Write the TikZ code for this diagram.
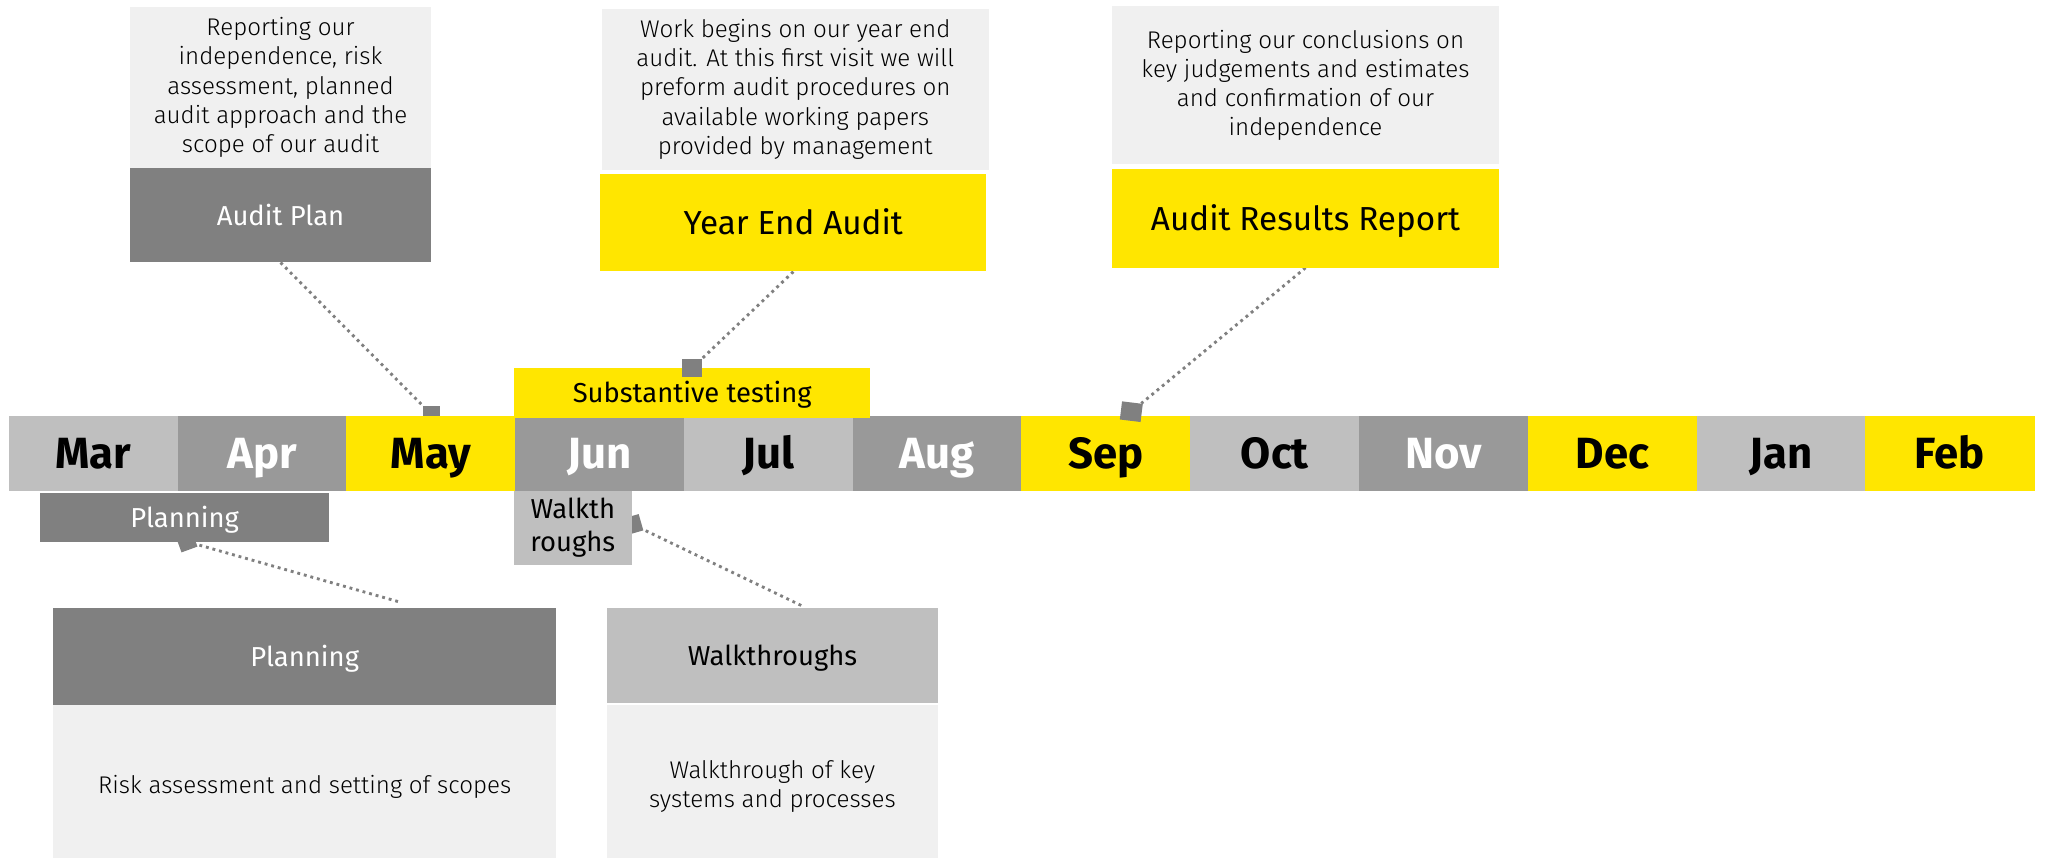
\documentclass[tikz,border=0pt]{standalone}
\usepackage{fontspec}
\setmainfont{Fira Sans}
\newfontfamily\lightfont{Fira Sans Light}
\usepackage{tikz}
\usepackage{xcolor}
\definecolor{eyyellow}{HTML}{FFE600}
\definecolor{darkgrey}{HTML}{808080}
\definecolor{midgrey}{HTML}{999999}
\definecolor{lightgrey}{HTML}{BFBFBF}
\definecolor{palegrey}{HTML}{F0F0F0}
\pgfdeclarelayer{edgelayer}
\pgfsetlayers{edgelayer,main}
\tikzset{
  month/.style={minimum width=129.7pt,minimum height=57pt,inner sep=0pt,
    font=\fontsize{33.5}{38}\selectfont\bfseries,text height=23pt,text depth=0pt},
  desc/.style={fill=palegrey,inner sep=0pt,align=center,
    font=\lightfont\fontsize{18.5}{22.3}\selectfont},
  boxtitle/.style={inner sep=0pt,font=\fontsize{21}{25}\selectfont},
  onetitle/.style={boxtitle,text height=15pt,text depth=0pt},
  bigtitle/.style={onetitle,font=\fontsize{25.5}{28}\selectfont,text height=18pt},
  marker/.style={fill=darkgrey,inner sep=0pt,minimum size=13pt},
  leader/.style={darkgrey,line width=2.2pt,dash pattern=on 2.2pt off 3pt}
}

\begin{document}
\begin{tikzpicture}[x=1pt,y=-1pt]
\useasboundingbox (0,0) rectangle (1568,657.5);
% months
\node[month,fill=lightgrey] (mar) at (71.67,347.5) {Mar};
\node[month,fill=midgrey,text=white] (apr) at (201,347.5) {Apr};
\node[month,fill=eyyellow] (may) at (330.33,347.5) {May};
\node[month,fill=midgrey,text=white] (jun) at (459.67,347.5) {Jun};
\node[month,fill=lightgrey] (jul) at (589,347.5) {Jul};
\node[month,fill=midgrey,text=white] (aug) at (718.33,347.5) {Aug};
\node[month,fill=eyyellow] (sep) at (847.67,347.5) {Sep};
\node[month,fill=lightgrey] (oct) at (977,347.5) {Oct};
\node[month,fill=midgrey,text=white] (nov) at (1106.33,347.5) {Nov};
\node[month,fill=eyyellow] (dec) at (1235.67,347.5) {Dec};
\node[month,fill=lightgrey] (jan) at (1365,347.5) {Jan};
\node[month,fill=eyyellow] (feb) at (1494.33,347.5) {Feb};
% reports above
\node[desc,minimum width=230pt,minimum height=124pt] (plandesc) at (215,67)
  {Reporting our\\independence, risk\\assessment, planned\\audit approach and the\\scope of our audit};
\node[onetitle,fill=darkgrey,text=white,minimum width=230pt,minimum height=72pt] (auditplan) at (215,165) {Audit Plan};
\node[desc,minimum width=297pt,minimum height=123pt] (yeardesc) at (609.5,68.5)
  {Work begins on our year end\\audit. At this first visit we will\\preform audit procedures on\\available working papers\\provided by management};
\node[bigtitle,fill=eyyellow,minimum width=296pt,minimum height=75pt] (yearend) at (608,170.5) {Year End Audit};
\node[desc,minimum width=297pt,minimum height=121.5pt] (resultsdesc) at (1000.5,65.3)
  {Reporting our conclusions on\\key judgements and estimates\\and confirmation of our\\independence};
\node[bigtitle,fill=eyyellow,minimum width=297pt,minimum height=75.5pt] (results) at (1000.5,167.3) {Audit Results Report};
\node[onetitle,fill=eyyellow,minimum width=273pt,minimum height=38pt] (substantive) at (530.5,301) {Substantive testing};
% phases below
\node[onetitle,fill=darkgrey,text=white,minimum width=221pt,minimum height=37pt] (planning) at (141.5,396.5) {Planning};
\node[boxtitle,fill=lightgrey,align=center,minimum width=90pt,minimum height=57pt] (walksmall) at (439,404.5) {Walkth\\roughs};
\node[onetitle,fill=darkgrey,text=white,minimum width=385pt,minimum height=74pt] (planbig) at (233.5,503) {Planning};
\node[desc,minimum width=385pt,minimum height=126pt] (planbigdesc) at (233.5,603) {Risk assessment and setting of scopes};
\node[onetitle,fill=lightgrey,minimum width=254pt,minimum height=73pt] (walkbig) at (592,502.5) {Walkthroughs};
\node[desc,minimum width=254pt,minimum height=126pt] (walkbigdesc) at (592,603) {Walkthrough of key\\systems and processes};
\node[marker,minimum width=15pt,minimum height=14pt] (m2) at (530.5,282) {};
\node[marker,minimum width=16pt,minimum height=14pt,rotate=-7] (m3) at (867,315.5) {};
\coordinate (p1) at (305,461);
\coordinate (w1) at (614,464);
\begin{pgfonlayer}{edgelayer}
\node[marker] (m1) at (331,318) {};
\node[marker,rotate=20] (m4) at (143,415) {};
\node[marker,rotate=16] (m5) at (485,402) {};
\path[leader]
(auditplan.south) edge (m1)
(yearend.south) edge (m2)
(results.south) edge (m3)
(p1) edge (m4)
(w1) edge (m5);
\end{pgfonlayer}
\end{tikzpicture}
\end{document}
